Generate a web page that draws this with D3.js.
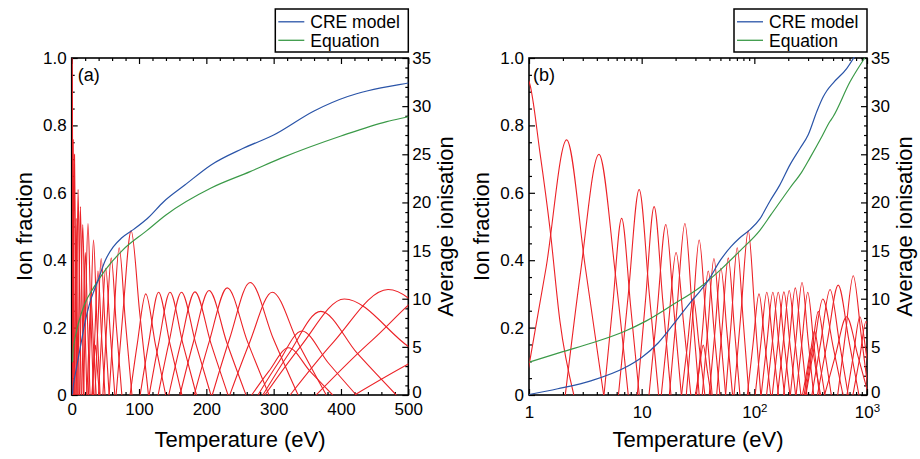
<!DOCTYPE html>
<html><head><meta charset="utf-8">
<script src="https://cdn.jsdelivr.net/npm/d3@7"></script>
<style>
body{margin:0;background:#fff}
svg{display:block}
text{font-family:"Liberation Sans",Arial,Helvetica,sans-serif;fill:#000}
</style></head>
<body><svg id="c" width="920" height="459"></svg>
<script>
// ---------- data ----------
// ion fraction curves: [temperature (eV), fraction] control points for each charge state
const ionCurves = [
 [[0.2,1.0],[0.7,0.99],[1,0.93],[1.25,0.72],[1.54,0.49],[1.88,0.22],[2.5,0]],
 [[0.9,0],[1.42,0.379],[2.16,0.757],[3.16,0.379],[4.6,0]],
 [[2.1,0],[2.85,0.357],[4.18,0.714],[5.85,0.357],[7.6,0]],
 [[4.63,0],[5.52,0.262],[6.64,0.524],[7.99,0.262],[9.52,0]],
 [[6.22,0],[7.64,0.305],[9.5,0.61],[11.65,0.305],[14.14,0]],
 [[9.14,0],[10.81,0.28],[12.9,0.559],[15.39,0.28],[18.2,0]],
 [[11.62,0],[13.75,0.253],[16.4,0.506],[19.3,0.253],[22.5,0]],
 [[14.94,0],[17.31,0.212],[20.2,0.423],[23.57,0.212],[27.3,0]],
 [[17.61,0],[20.56,0.255],[24.2,0.509],[28.1,0.255],[32.4,0]],
 [[22.6,0],[25.4,0.144],[28.7,0.287],[32.4,0.144],[36.4,0]],
 [[24.9,0],[28.3,0.23],[32.4,0.46],[37.1,0.23],[42.2,0]],
 [[30.0,0],[32.4,0.074],[35.2,0.148],[38.2,0.074],[41.3,0]],
 [[30.7,0],[34.5,0.184],[39,0.368],[44.1,0.184],[49.5,0]],
 [[34.5,0],[38.8,0.203],[43.8,0.405],[49.5,0.203],[55.6,0]],
 [[39.8,0],[44.7,0.188],[50.5,0.376],[57.1,0.188],[64.1,0]],
 [[46.3,0],[51.9,0.204],[58.7,0.407],[66.3,0.204],[74.5,0]],
 [[55.6,0],[62.4,0.219],[70.5,0.437],[79.7,0.219],[89.5,0]],
 [[66.0,0],[76.1,0.244],[88.3,0.487],[101,0.244],[114,0]],
 [[86.7,0],[97.3,0.15],[110,0.30],[124.3,0.15],[139.6,0]],
 [[101.7,0],[114.2,0.153],[129,0.305],[145.8,0.153],[163.7,0]],
 [[115.1,0],[129.2,0.153],[146,0.305],[165,0.153],[185.3,0]],
 [[128.4,0],[144.2,0.153],[163,0.305],[184.2,0.153],[206.8,0]],
 [[144.2,0],[161.9,0.153],[183,0.306],[206.8,0.153],[232.2,0]],
 [[160.8,0],[180.5,0.155],[204,0.31],[230.5,0.155],[258.9,0]],
 [[182,0],[204.4,0.159],[231,0.318],[261,0.159],[293.1,0]],
 [[208.8,0],[234.5,0.167],[265,0.334],[299.5,0.167],[336.3,0]],
 [[234.8,0],[263.7,0.153],[298,0.305],[336.7,0.153],[378.2,0]],
 [[267.4,0],[292.7,0.07],[322,0.14],[354.2,0.07],[387.7,0]],
 [[276.7,0],[306.7,0.095],[342,0.19],[381.3,0.095],[422.7,0]],
 [[284,0],[322.9,0.124],[370,0.248],[424,0.124],[482.1,0]],
 [[287,0],[339.5,0.143],[405,0.285],[500.6,0.143],[612.4,0]],
 [[324.4,0],[388.8,0.157],[470,0.313],[568.2,0.157],[681,0]],
 [[363.2,0],[446.5,0.163],[555,0.326],[689.9,0.163],[848,0]],
 [[420.3,0],[523,0.116],[659,0.232],[830.3,0.116],[1033,0]],
 [[549.5,0],[641.5,0.177],[755,0.354],[888.6,0.177],[1037,0]],
 [[663.9,0],[754.8,0.116],[865,0.232],[991.3,0.116],[1127,0]],
 [[750,0],[860,0.109],[980,0.218],[1120,0.109],[1280,0]]
];
// average ionisation
const creT = [1,1.8,3.6,7,10,14,19,27,33,39,50,62,74,92,112,137,168,207,254,300,360,410,440,500,660,780];
const creZ = [0.05,0.65,1.5,2.8,3.9,5.4,7.3,9.6,10.8,11.9,14.0,15.4,16.3,17.2,18.3,20.1,21.8,23.9,25.6,27.0,29.5,31.0,31.6,32.4,33.9,35.2];
const eqT = [1,2,3.6,7,11,19,33,50,75,112,140,207,265,311,400,468,500,705,955];
const eqZ = [3.4,4.5,5.4,6.6,7.7,9.4,11.2,13.0,15.0,17.1,18.7,21.5,23.2,24.6,26.9,28.4,28.9,32.5,35.0];
// axes
const fracTicks = [0,0.2,0.4,0.6,0.8,1.0];
const fracLabels = ["0","0.2","0.4","0.6","0.8","1.0"];
const zTicks = [0,5,10,15,20,25,30,35];
const linTicks = [0,100,200,300,400,500];
const logTicks = [1,10,100,1000];
const logLabels = [["1",""],["10",""],["10","2"],["10","3"]];
const legendLabels = ["CRE model","Equation"];
const panelLabels = ["(a)","(b)"];
const xTitle = "Temperature (eV)", yTitleL = "Ion fraction", yTitleR = "Average ionisation";

// ---------- drawing ----------
const svg = d3.select("#c");
svg.append("rect").attr("width",920).attr("height",459).attr("fill","#fff");
const yTop = 58, yBot = 395;
const yF = d3.scaleLinear().domain([0,1]).range([yBot,yTop]);
const yZ = d3.scaleLinear().domain([0,35]).range([yBot,yTop]);
const panels = [
  {id:"a", x: d3.scaleLinear().domain([0,500]).range([71.7,408.3]), log:false},
  {id:"b", x: d3.scaleLog().domain([1,1000]).range([529,867]), log:true}
];
const RED="#ec2227", BLUE="#2a54a8", GREEN="#3b9a48";

panels.forEach((P,pi)=>{
  const x = P.x, L = x.range()[0], R = x.range()[1];
  const g = svg.append("g");
  g.append("clipPath").attr("id","clip"+P.id).append("rect")
    .attr("x",L).attr("y",yTop-1).attr("width",R-L).attr("height",yBot-yTop+1.5);
  g.append("rect").attr("x",L).attr("y",yTop).attr("width",R-L).attr("height",yBot-yTop)
    .attr("fill","none").attr("stroke","#000").attr("stroke-width",1.6);

  let xMinor;
  if(P.log){ xMinor=[]; [1,10,100].forEach(d=>{for(let k=2;k<=9;k++) xMinor.push(d*k);}); }
  else { xMinor = d3.range(0,501,20).filter(v=>v%100!==0); }
  const fMinor = d3.range(0,1.0001,0.05).filter((v,i)=>i%4!==0);
  const zMinor = d3.range(0,36,1).filter(v=>v%5!==0);

  const styleAxis = sel=>{ sel.select(".domain").remove(); sel.selectAll("line").attr("stroke","#000").attr("stroke-width",1.2);
     sel.selectAll("text").attr("font-size",17).attr("font-family","Liberation Sans, Arial, sans-serif").attr("fill","#000"); };

  const bx = g.append("g").attr("transform",`translate(0,${yBot})`)
    .call(d3.axisBottom(x).tickValues(P.log?logTicks:linTicks).tickSize(-6).tickPadding(P.log?11:8)
      .tickFormat((d,i)=> P.log ? "" : String(d)));
  styleAxis(bx);
  if(P.log){
    bx.selectAll(".tick text").each(function(d,i){
      const t=d3.select(this); t.text(null);
      t.append("tspan").text(logLabels[i][0]);
      if(logLabels[i][1]) t.append("tspan").attr("font-size",11.5).attr("dy","-0.5em").text(logLabels[i][1]);
    });
  }
  g.append("g").attr("transform",`translate(0,${yBot})`)
    .call(d3.axisBottom(x).tickValues(xMinor).tickSize(-3).tickFormat("")).call(styleAxis);
  g.append("g").attr("transform",`translate(0,${yTop})`)
    .call(d3.axisTop(x).tickValues(P.log?logTicks:linTicks).tickSize(-6).tickFormat("")).call(styleAxis);
  g.append("g").attr("transform",`translate(0,${yTop})`)
    .call(d3.axisTop(x).tickValues(xMinor).tickSize(-3).tickFormat("")).call(styleAxis);
  g.append("g").attr("transform",`translate(${L},0)`)
    .call(d3.axisLeft(yF).tickValues(fracTicks).tickSize(-6).tickPadding(5).tickFormat((d,i)=>fracLabels[i])).call(styleAxis);
  g.append("g").attr("transform",`translate(${L},0)`)
    .call(d3.axisLeft(yF).tickValues(fMinor).tickSize(-3).tickFormat("")).call(styleAxis);
  const ry = g.append("g").attr("transform",`translate(${R},0)`)
    .call(d3.axisRight(yZ).tickValues(zTicks).tickSize(-6).tickPadding(4)).call(styleAxis);
  ry.selectAll(".tick text").filter(d=>d===0).attr("dy","0.15em");
  g.append("g").attr("transform",`translate(${R},0)`)
    .call(d3.axisRight(yZ).tickValues(zMinor).tickSize(-3).tickFormat("")).call(styleAxis);

  const cg = g.append("g").attr("clip-path",`url(#clip${P.id})`);
  const ionLine = d3.line().x(d=>x(d[0])).y(d=>yF(d[1])).curve(d3.curveMonotoneX);
  ionCurves.forEach(c=>{
    cg.append("path").attr("d",ionLine(c)).attr("fill","none").attr("stroke",RED).attr("stroke-width",1.1);
  });
  const zLine = d3.line().x(d=>x(d[0])).y(d=>yZ(d[1])).curve(d3.curveMonotoneX);
  cg.append("path").attr("d",zLine(eqT.map((t,i)=>[t,eqZ[i]]))).attr("fill","none").attr("stroke",GREEN).attr("stroke-width",1.2);
  cg.append("path").attr("d",zLine(creT.map((t,i)=>[t,creZ[i]]))).attr("fill","none").attr("stroke",BLUE).attr("stroke-width",1.2);

  g.append("text").attr("x",L+(P.log?4:6)).attr("y",81).attr("font-size",18).text(panelLabels[pi]);
  g.append("text").attr("x",(L+R)/2).attr("y",447).attr("text-anchor","middle").attr("font-size",22).text(xTitle);
  g.append("text").attr("transform",`translate(${L-40},${(yTop+yBot)/2}) rotate(-90)`).attr("text-anchor","middle").attr("font-size",22).text(yTitleL);
  g.append("text").attr("transform",`translate(${R+45},${(yTop+yBot)/2}) rotate(-90)`).attr("text-anchor","middle").attr("font-size",22).text(yTitleR);

  const lw = 133, lx = R - lw, ly = 9;
  g.append("rect").attr("x",lx).attr("y",ly).attr("width",lw).attr("height",43).attr("fill","#fff").attr("stroke","#000").attr("stroke-width",1.5);
  [BLUE,GREEN].forEach((col,i)=>{
    const yy = 21.8 + i*18.5;
    g.append("line").attr("x1",lx+3).attr("x2",lx+29).attr("y1",yy).attr("y2",yy).attr("stroke",col).attr("stroke-width",1.3);
    g.append("text").attr("x",lx+35).attr("y",yy+6.2).attr("font-size",17.5).text(legendLabels[i]);
  });
});
</script></body></html>
